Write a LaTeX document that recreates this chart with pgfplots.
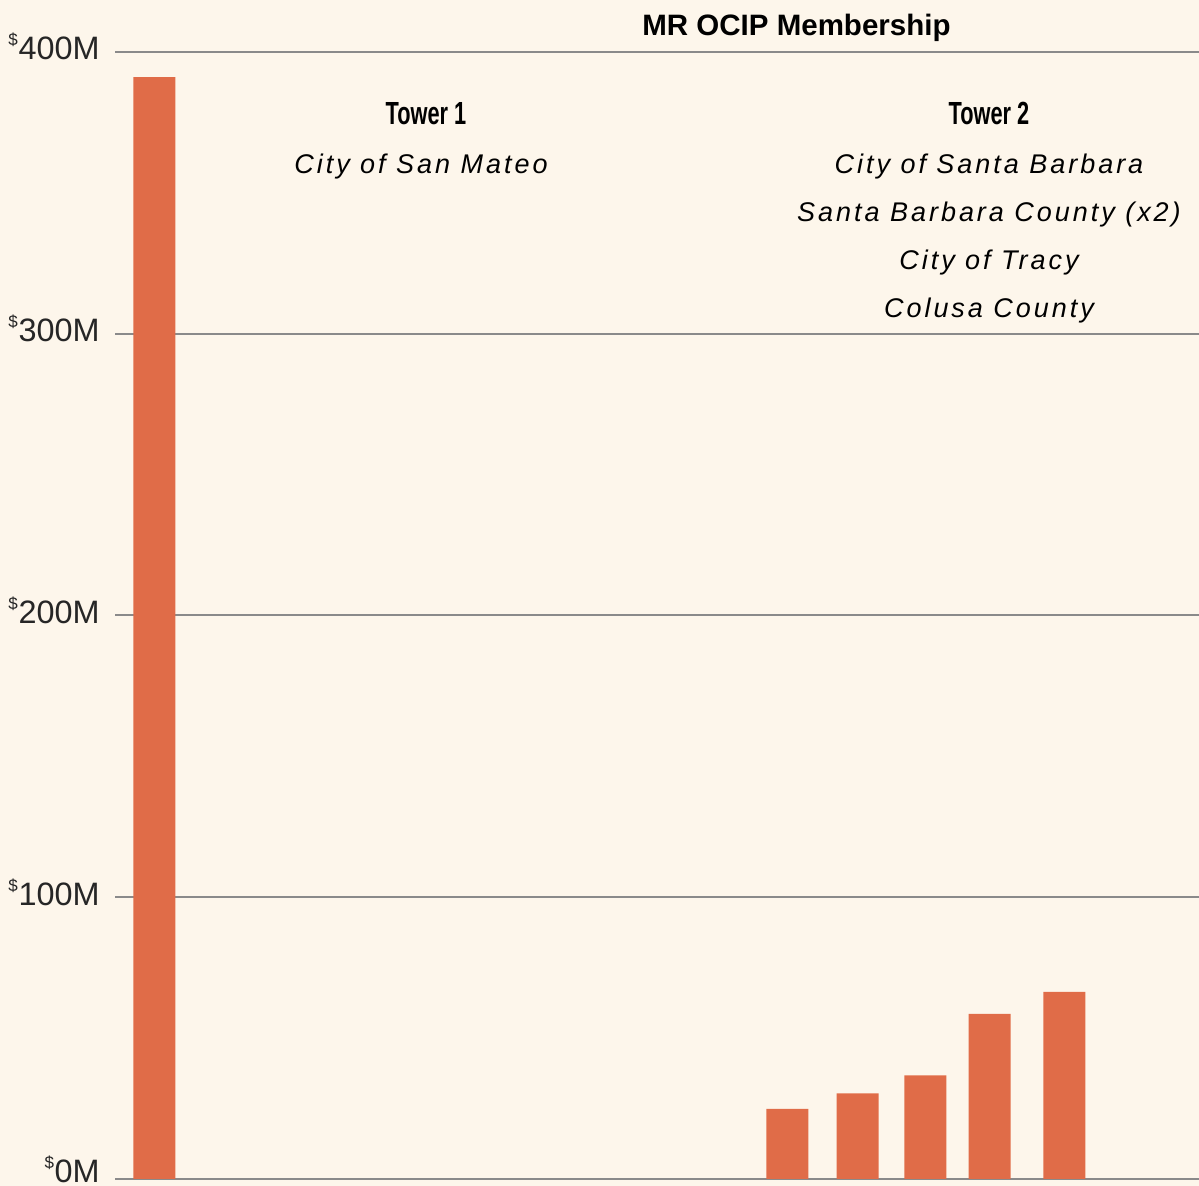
\documentclass[border=0pt]{standalone}
\usepackage{fontspec}
\usepackage{pgfplots}
\pgfplotsset{compat=1.18}
\setmainfont{Liberation Sans}
\newfontfamily\condfont{Liberation Sans}[FakeStretch=0.68]
\newfontfamily\spacedfont{Liberation Sans}[LetterSpace=11]
\definecolor{paper}{RGB}{253,246,235}
\definecolor{bar}{RGB}{224,108,72}
\definecolor{rule}{RGB}{138,138,138}
\newcommand{\dol}{\raisebox{7bp}{\fontsize{8.5bp}{9bp}\selectfont\$}\kern0.3bp}

\begin{document}
\begin{tikzpicture}
\useasboundingbox (0,0) rectangle (599.5bp,593bp);
\fill[paper] (0,0) rectangle (599.5bp,593bp);
\begin{axis}[
  at={(57.5bp,3.5bp)}, anchor=south west,
  x=0.5bp, y=1.409bp,
  xmin=115, xmax=1199, ymin=0, ymax=400,
  axis line style={draw=none},
  tick style={draw=none},
  xtick=\empty,
  ytick={0,100,200,300,400},
  yticklabels={\raisebox{2.5bp}{\dol0M},\dol100M,\dol200M,\dol300M,\dol400M},
  yticklabel style={anchor=base east, inner sep=0pt, xshift=-7.5bp, yshift=-4bp,
    font=\fontsize{16.2bp}{18bp}\selectfont, text=black!85},
  ymajorgrids, grid style={draw=rule, line width=1bp},
]
\addplot[ybar, bar width=21bp, bar shift=0pt, fill=bar, draw=none]
  coordinates {(154.5,391.0) (787.5,24.9) (857.7,30.4) (925.3,36.8) (989.7,58.6) (1064.3,66.4)};
\end{axis}
\begin{scope}[x=0.5bp, y=0.5bp]
\node[anchor=base, inner sep=0pt, font=\bfseries\fontsize{14.75bp}{17bp}\selectfont] at (796.5,1151) {MR OCIP Membership};
\node[anchor=base, inner sep=0pt, font=\condfont\bfseries\fontsize{16bp}{18bp}\selectfont] at (426,1062) {Tower 1};
\node[anchor=base, inner sep=0pt, font=\condfont\bfseries\fontsize{16bp}{18bp}\selectfont] at (989,1062) {Tower 2};
\begin{scope}[every node/.style={anchor=base, inner sep=0pt, font=\spacedfont\itshape\fontsize{13.5bp}{15bp}\selectfont}]
\node at (421,1013) {City of San Mateo};
\node at (989,1013) {City of Santa Barbara};
\node at (989,965) {Santa Barbara County (x2)};
\node at (989,917) {City of Tracy};
\node at (989,869) {Colusa County};
\end{scope}
\end{scope}
\end{tikzpicture}
\end{document}
